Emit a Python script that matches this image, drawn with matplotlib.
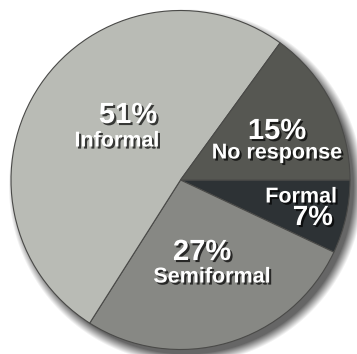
import matplotlib
matplotlib.use("Agg")
import matplotlib.pyplot as plt
import matplotlib.patheffects as pe
import numpy as np

# survey shares, drawn clockwise from 3 o'clock
labels = ['Formal', 'Semiformal', 'Informal', 'No response']
shares = [7, 27, 51, 15]
colors = ['#2d3235', '#878884', '#b9bbb5', '#565752']

W, H = 357, 354
cx, cy, r = 180.5, 174.0, 169.5

fig = plt.figure(figsize=(W / 100, H / 100), dpi=100)
ax = fig.add_axes([0, 0, 1, 1])
ax.set_xlim(0, W)
ax.set_ylim(0, H)
ax.set_aspect('equal')
ax.axis('off')

# soft drop shadow behind the pie (blurred disk, offset down-right)
yy, xx = np.mgrid[0:H, 0:W]
d = np.hypot(xx - (cx + 5), (H - yy) - (cy - 6))
shadow = np.clip((r + 3 - d) / 10.0 + 0.5, 0, 1)
rgba = np.zeros((H, W, 4))
rgba[..., 3] = shadow * 0.6
ax.imshow(rgba, extent=(0, W, 0, H), origin='upper', zorder=0)

wedges, _ = ax.pie(shares, colors=colors, startangle=0, counterclock=False,
                   radius=r, center=(cx, cy), frame=True,
                   wedgeprops=dict(edgecolor='#4a4a48', linewidth=0.8))
ax.set_xlim(0, W)
ax.set_ylim(0, H)
ax.axis('off')

fx = [pe.SimplePatchShadow(offset=(1.5, -1.5), shadow_rgbFace='black', alpha=0.7),
      pe.Normal()]
txt = dict(color='white', fontweight='bold', family='Liberation Sans',
           path_effects=fx, va='center')

ax.text(128, H - 115, f'{shares[2]}%', fontsize=21, ha='center', **txt)
ax.text(117, H - 141, labels[2], fontsize=15.5, ha='center', **txt)
ax.text(277, H - 131, f'{shares[3]}%', fontsize=21, ha='center', **txt)
ax.text(277, H - 153, labels[3], fontsize=15.5, ha='center', **txt)
ax.text(337, H - 197, labels[0], fontsize=15.5, ha='right', **txt)
ax.text(333, H - 218, f'{shares[0]}%', fontsize=20, ha='right', **txt)
ax.text(202, H - 252, f'{shares[1]}%', fontsize=21, ha='center', **txt)
ax.text(212, H - 277, labels[1], fontsize=15.5, ha='center', **txt)

fig.savefig('out.png', dpi=100)
